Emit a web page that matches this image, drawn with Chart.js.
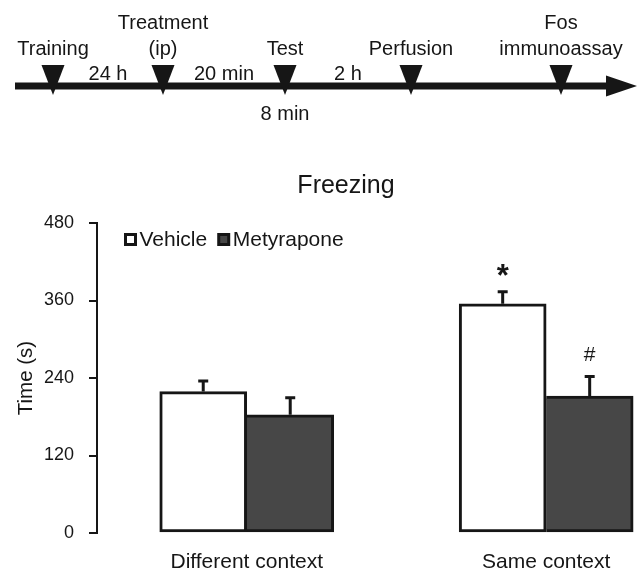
<!DOCTYPE html>
<html><head><meta charset="utf-8">
<script src="https://cdn.jsdelivr.net/npm/chart.js@4"></script>
<style>html,body{margin:0;padding:0;background:#fff;}canvas{display:block;}</style>
</head><body>
<canvas id="c" width="642" height="570"></canvas>
<script>
// ---- data ----
const categories = ['Different context', 'Same context'];
const vehicleMean = [219, 355];
const vehicleSem = [18, 20];
const metyraponeMean = [183, 212];
const metyraponeSem = [28, 32];
const vehicleMarks = ['', '*'];
const metyraponeMarks = ['', '#'];
const yTicks = [0, 120, 240, 360, 480];
const timelineEvents = [['Training'], ['Treatment', '(ip)'], ['Test'], ['Perfusion'], ['Fos', 'immunoassay']];
const timelineIntervals = ['24 h', '20 min', '2 h'];
const testDuration = '8 min';
const chartTitle = 'Freezing';
const yTitle = 'Time (s)';

// ---- styles / layout ----
const FAMILY = "'Liberation Sans', Arial, sans-serif";
const INK = '#161616';
const TL = {y: 86, x0: 15, x1: 637, thick: 7, headLen: 31, headHalf: 10.5,
  triTop: 65, triTip: 95, triHalf: 11.5, eventX: [53, 163, 285, 411, 561],
  baseline: 55, lineGap: 26, intervalBaseline: 80, durationBaseline: 120};

Chart.defaults.font.family = FAMILY;
Chart.defaults.color = INK;

const figurePlugin = {
  id: 'figure',
  afterDraw(chart) {
    const ctx = chart.ctx;
    const yScale = chart.scales.y;
    ctx.save();
    ctx.fillStyle = INK;
    // timeline
    ctx.fillRect(TL.x0, TL.y - TL.thick / 2, TL.x1 - TL.headLen - TL.x0 + 1, TL.thick);
    ctx.beginPath();
    ctx.moveTo(TL.x1 - TL.headLen, TL.y - TL.headHalf);
    ctx.lineTo(TL.x1, TL.y);
    ctx.lineTo(TL.x1 - TL.headLen, TL.y + TL.headHalf);
    ctx.closePath(); ctx.fill();
    TL.eventX.forEach(x => {
      ctx.beginPath();
      ctx.moveTo(x - TL.triHalf, TL.triTop);
      ctx.lineTo(x + TL.triHalf, TL.triTop);
      ctx.lineTo(x, TL.triTip);
      ctx.closePath(); ctx.fill();
    });
    ctx.font = '20px ' + FAMILY;
    ctx.textAlign = 'center';
    ctx.textBaseline = 'alphabetic';
    timelineEvents.forEach((lines, i) => {
      lines.forEach((t, j) => ctx.fillText(t, TL.eventX[i], TL.baseline - (lines.length - 1 - j) * TL.lineGap));
    });
    timelineIntervals.forEach((t, i) => ctx.fillText(t, (TL.eventX[i] + TL.eventX[i + 1]) / 2, TL.intervalBaseline));
    ctx.fillText(testDuration, TL.eventX[2], TL.durationBaseline);
    // title
    ctx.font = '25px ' + FAMILY;
    ctx.fillText(chartTitle, 346, 193);
    // legend
    ctx.font = '21px ' + FAMILY;
    ctx.textAlign = 'left';
    let lx = 124;
    chart.data.datasets.forEach(ds => {
      ctx.fillStyle = INK; ctx.fillRect(lx, 233, 13, 13);
      ctx.fillStyle = ds.backgroundColor; ctx.fillRect(lx + 3, 236, 7, 7);
      ctx.fillStyle = INK; ctx.fillText(ds.label, lx + 15.5, 246);
      lx += 15.5 + ctx.measureText(ds.label).width + 10;
    });
    // error bars + significance marks
    ctx.strokeStyle = INK; ctx.lineWidth = 3; ctx.textAlign = 'center';
    chart.data.datasets.forEach((ds, di) => {
      const meta = chart.getDatasetMeta(di);
      meta.data.forEach((bar, i) => {
        const top = yScale.getPixelForValue(ds.data[i].y + ds.errors[i]);
        ctx.beginPath();
        ctx.moveTo(bar.x, bar.y); ctx.lineTo(bar.x, top);
        ctx.moveTo(bar.x - 5, top + 1); ctx.lineTo(bar.x + 5, top + 1);
        ctx.stroke();
        const mark = ds.marks[i];
        if (mark) {
          ctx.font = (mark === '*' ? 'bold 31px ' : '21px ') + FAMILY;
          const m = ctx.measureText(mark);
          const cy = top - 21;
          ctx.fillText(mark, bar.x, cy + (m.actualBoundingBoxAscent - m.actualBoundingBoxDescent) / 2);
        }
      });
    });
    ctx.restore();
  }
};

new Chart(document.getElementById('c'), {
  type: 'bar',
  data: {
    datasets: [
      { label: 'Vehicle', data: categories.map((c, i) => ({x: i + 1, y: vehicleMean[i]})),
        errors: vehicleSem, marks: vehicleMarks,
        backgroundColor: '#ffffff', borderColor: INK, borderWidth: 3, borderSkipped: false, barThickness: 87 },
      { label: 'Metyrapone', data: categories.map((c, i) => ({x: i + 1, y: metyraponeMean[i]})),
        errors: metyraponeSem, marks: metyraponeMarks,
        backgroundColor: '#474747', borderColor: INK, borderWidth: {top: 3, right: 3, bottom: 3, left: 0},
        borderSkipped: false, barThickness: 87 }
    ]
  },
  options: {
    responsive: false,
    animation: false,
    devicePixelRatio: 1,
    layout: { padding: { top: 223, left: 0, right: 0, bottom: 0 } },
    plugins: { legend: { display: false }, title: { display: false }, tooltip: { enabled: false } },
    scales: {
      x: {
        type: 'linear', min: 0.5, max: 2.32, offset: false,
        afterBuildTicks: s => { s.ticks = categories.map((c, i) => ({value: i + 1})); },
        afterFit: s => { s.height = 37; },
        ticks: { callback: v => categories[Math.round(v) - 1], font: {size: 21}, color: INK, padding: 17, autoSkip: false, maxRotation: 0 },
        grid: { display: false, drawTicks: false },
        border: { display: false }
      },
      y: {
        min: 0, max: 480,
        afterBuildTicks: s => { s.ticks = yTicks.map(v => ({value: v})); },
        afterFit: s => { s.width = 97; },
        ticks: { font: {size: 18}, color: INK, padding: 15 },
        grid: { drawOnChartArea: false, drawTicks: true, tickLength: 8, tickWidth: 2, tickColor: INK, lineWidth: 2 },
        border: { display: true, color: INK, width: 2 },
        title: { display: true, text: yTitle, font: {size: 20.5}, color: INK, padding: {top: 14, bottom: 0} }
      }
    }
  },
  plugins: [figurePlugin]
});
</script>
</body></html>
